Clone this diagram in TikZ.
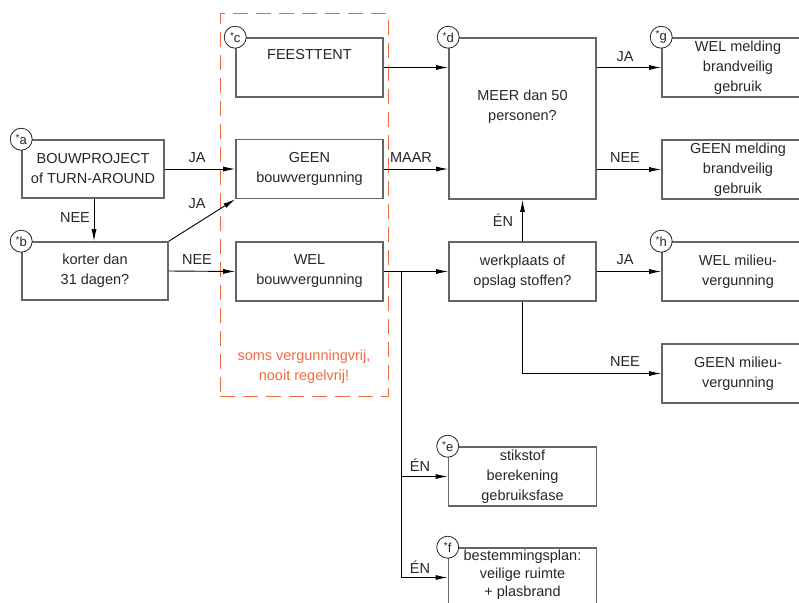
\documentclass[tikz,border=0pt]{standalone}
\usepackage{fontspec}
\setmainfont{Liberation Sans}
\usetikzlibrary{arrows.meta,positioning}

\definecolor{oranjerood}{HTML}{F26A40}
\definecolor{kader}{HTML}{666666}

\tikzset{
  blok/.style={draw=kader, line width=1.6pt, minimum width=147pt, minimum height=59pt,
    align=center, inner sep=0pt, font=\fontsize{14.5}{20}\selectfont, text=black!85},
  merk/.style={circle, draw=black!85, line width=0.8pt, fill=white, minimum size=22pt,
    inner sep=0pt, font=\fontsize{13}{13}\selectfont, text=black!85},
  pijl/.style={-{Latex[length=12pt,width=5pt]}, line width=0.9pt},
  lijn/.style={line width=0.9pt},
  tekst/.style={font=\fontsize{14.5}{20}\selectfont, text=black!85, inner sep=1pt},
}
\newcommand{\ster}{\raisebox{0.45ex}{\fontsize{10}{10}\selectfont *}}

\begin{document}
\begin{tikzpicture}[x=1pt, y=-1pt]
    \useasboundingbox (0,0) rectangle (799,602);
    \clip (0,0) rectangle (799,602);

    % kader vergunningvrij
    \node[draw=oranjerood, line width=1pt, dash pattern=on 15pt off 8pt,
      minimum width=168pt, minimum height=382pt] (vrij) at (304,205) {};
    \node[tekst, text=oranjerood, align=center] (vrijtekst) at (304,367)
      {soms vergunningvrij,\\nooit regelvrij!};

    % blokken links
    \node[blok, minimum width=142pt, minimum height=58pt] (a) at (93,169) {BOUWPROJECT\\of TURN-AROUND};
    \node[blok, minimum width=146pt, minimum height=58pt] (b) at (95,271) {korter dan\\31 dagen?};

    \node[blok] (c) at (309.5,67.5) {FEESTTENT\\\strut};
    \node[blok] (gb) at (309.5,169) {GEEN\\bouwvergunning};
    \node[blok] (wb) at (309.5,271.5) {WEL\\bouwvergunning};

    % midden
    \node[blok, minimum height=161pt] (d) at (522.5,118.5) {MEER dan 50\\personen?\\\strut};
    \node[blok] (wp) at (522.5,271.5) {werkplaats of\\opslag stoffen?};
    \node[blok, minimum width=148pt] (e) at (522.5,476.5) {stikstof\\berekening\\gebruiksfase};
    \node[blok, minimum width=148pt] (f) at (522.5,577.5) {};
    \node[tekst, align=center, font=\fontsize{14.5}{18}\selectfont, below=2pt of f.north] (ftekst)
      {bestemmingsplan:\\veilige ruimte\\+ plasbrand};

    % rechts
    \node[blok, minimum width=152pt] (g) at (738,67.5) {WEL melding\\brandveilig\\gebruik};
    \node[blok, minimum width=152pt] (gm) at (738,169.5) {GEEN melding\\brandveilig\\gebruik};
    \node[blok, minimum width=152pt] (h) at (738,271.5) {WEL milieu-\\vergunning};
    \node[blok, minimum width=152pt] (gmil) at (738,373.5) {GEEN milieu-\\vergunning};

    % pijlen
    \draw[pijl] (a.south -| 94,0) -- (b.north -| 94,0);
    \draw[pijl] (a.east) -- (gb.west);
    \draw[pijl] (b.north east) -- (gb.south west);
    \draw[pijl] (b.east) -- (wb.west);
    \draw[pijl] (c.east) -- (c.east -| d.west);
    \draw[pijl] (gb.east) -- (gb.east -| d.west);
    \draw[pijl] (d.east |- g.west) -- (g.west);
    \draw[pijl] (d.east |- gm.west) -- (gm.west);
    \draw[pijl] (wb.east) -- (wp.west);
    \draw[pijl] (wp.north) -- (d.south);
    \draw[pijl] (wp.east) -- (h.west);
    \draw[pijl] (wp.south) |- (gmil.west);

    \coordinate (splits) at (401,271.5);
    \draw[pijl] (splits) |- (f.west);
    \draw[pijl] (splits |- e.west) -- (e.west);

    % labels bij de pijlen
    \node[tekst] (ja1) at (197,158) {JA};
    \node[tekst] (ja2) at (197,204) {JA};
    \node[tekst] (nee1) at (75,218) {NEE};
    \node[tekst] (nee2) at (197,260) {NEE};
    \node[tekst] (maar) at (411,158) {MAAR};
    \node[tekst] (ja3) at (625,57) {JA};
    \node[tekst] (nee3) at (625,158) {NEE};
    \node[tekst] (en1) at (503,220) {ÉN};
    \node[tekst] (ja4) at (625,260) {JA};
    \node[tekst] (nee4) at (625,362) {NEE};
    \node[tekst] (en2) at (420,465) {ÉN};
    \node[tekst] (en3) at (420,567) {ÉN};

    % merktekens
    \node[merk] (ma) at (a.north west) {\ster a};
    \node[merk] (mb) at (b.north west) {\ster b};
    \node[merk] (mc) at (c.north west) {\ster c};
    \node[merk] (md) at (d.north west) {\ster d};
    \node[merk] (me) at (e.north west) {\ster e};
    \node[merk] (mf) at (f.north west) {\ster f};
    \node[merk] (mg) at (g.north west) {\ster g};
    \node[merk] (mh) at (h.north west) {\ster h};

\end{tikzpicture}
\end{document}
